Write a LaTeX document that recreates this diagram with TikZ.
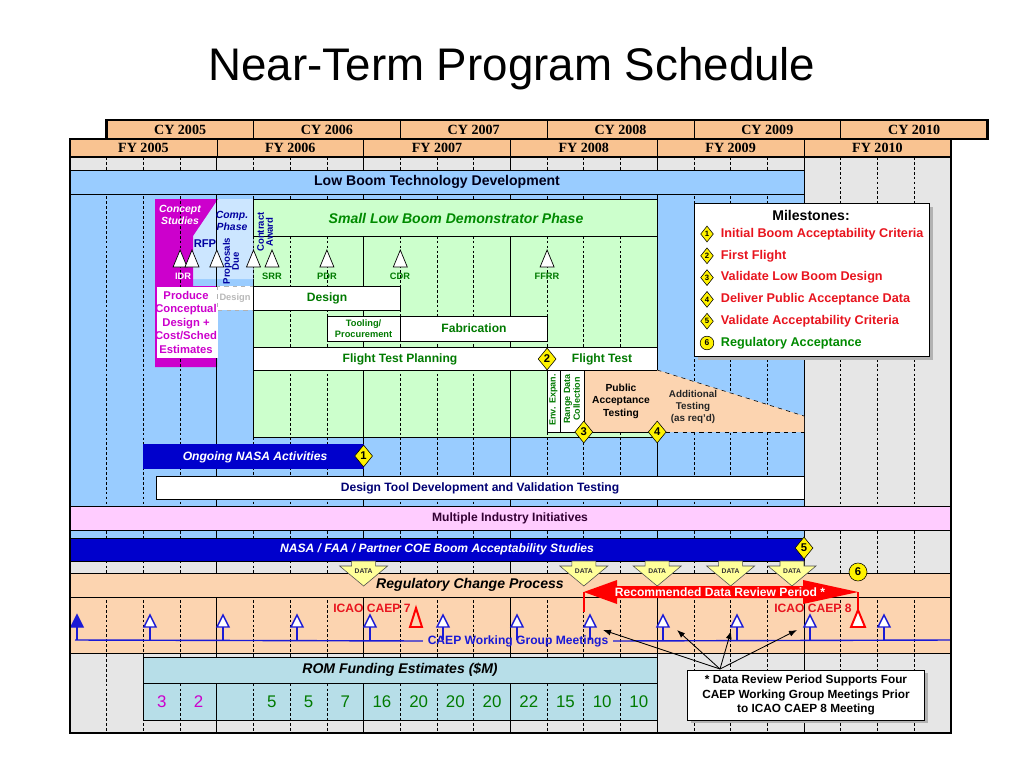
\documentclass[tikz,border=0pt]{standalone}
\usepackage{fontspec}
\setmainfont{Liberation Sans}
\newfontfamily\hdrfont{Liberation Serif}
\usepackage{xcolor}
\usetikzlibrary{arrows.meta,calc,shapes.geometric}

\definecolor{hdrorange}{HTML}{F9C391}
\definecolor{roworange}{HTML}{FCD4B0}
\definecolor{graybg}{HTML}{E6E6E6}
\definecolor{bluebg}{HTML}{99CCFF}
\definecolor{greenbg}{HTML}{CCFFCC}
\definecolor{compblue}{HTML}{CCE6FF}
\definecolor{conceptmag}{HTML}{CC00CC}
\definecolor{navybar}{HTML}{0000CC}
\definecolor{pinkrow}{HTML}{FFCCFF}
\definecolor{romteal}{HTML}{B7DEE8}
\definecolor{msred}{HTML}{E8141E}
\definecolor{msgreen}{HTML}{008A00}
\definecolor{lblgreen}{HTML}{007A00}
\definecolor{lblblue}{HTML}{0000A0}
\definecolor{wgblue}{HTML}{1A1AD6}
\definecolor{datayel}{HTML}{FFFF99}
\definecolor{industry}{HTML}{330033}

\newcommand{\qx}[1]{70+36.7*(#1)}

\begin{document}
\begin{tikzpicture}[x=0.025cm,y=-0.025cm,>=Latex,
    hdr/.style={font=\hdrfont\bfseries\fontsize{10}{12}\selectfont},
    barlbl/.style={font=\bfseries\fontsize{8.6}{10}\selectfont},
    barit/.style={font=\bfseries\itshape\fontsize{8.6}{10}\selectfont},
    bigbar/.style={font=\bfseries\fontsize{10}{12}\selectfont},
    bigit/.style={font=\bfseries\itshape\fontsize{10}{12}\selectfont},
    smlbl/.style={font=\bfseries\fontsize{6.6}{7.6}\selectfont,text=lblgreen},
    gridq/.style={line width=0.5pt,dash pattern=on 2pt off 1.5pt},
    gridfy/.style={line width=0.6pt},
    revtri/.style={draw=black,fill=white,line width=0.5pt},
    wgtri/.style={draw=wgblue,line width=1pt,fill=white},
    ms/.style={diamond,draw=black,fill=yellow,minimum width=0.45cm,minimum height=0.55cm,
      inner sep=0pt,font=\bfseries\fontsize{8}{9}\selectfont},
    mslg/.style={diamond,draw=black,fill=yellow,minimum width=0.32cm,minimum height=0.4cm,
      inner sep=0pt,font=\bfseries\fontsize{5.5}{6}\selectfont},
    mstxt/.style={anchor=west,font=\bfseries\fontsize{9}{11}\selectfont,text=msred}]
  \useasboundingbox (0,0) rectangle (1024,768);

  \node[font=\fontsize{32.5}{38}\selectfont] (title) at (512,69) {Near-Term Program Schedule};

  \foreach \yr [count=\i from 0] in {2005,...,2010} {
    \filldraw[fill=hdrorange,draw=black] ({\qx{4*\i+1}},120) rectangle ({\qx{4*\i+5}},139);
    \node[hdr] at ({\qx{4*\i+3}},129.5) {CY \yr};
    \filldraw[fill=hdrorange,draw=black] ({\qx{4*\i}},139) rectangle ({\qx{4*\i+4}},157);
    \node[hdr] at ({\qx{4*\i+2}},148) {FY \yr};
  }

  \fill[graybg] (70,157) rectangle ({\qx{24}},733);
  \fill[bluebg] (70,170) rectangle ({\qx{20}},561);
  \filldraw[fill=roworange,draw=black] (70,597) rectangle ({\qx{24}},653);
  \filldraw[fill=greenbg,draw=black] ({\qx{5}},199) rectangle ({\qx{16}},437);
  \fill[romteal] ({\qx{2}},683) rectangle ({\qx{16}},720);
  \fill[compblue] (218,199) -- ({\qx{5}},199) -- ({\qx{5}},279) -- (193,279) -- (193,236) -- cycle;
  \fill[conceptmag] (155,199) -- (218,199) -- (193,236) -- (193,286) -- (217,286)
    -- (217,367) -- (155,367) -- cycle;

  \foreach \k in {1,...,23}
    \draw[gridq] ({\qx{\k}},157) -- ({\qx{\k}},733);
  \foreach \k in {4,8,...,20}
    \draw[gridfy] ({\qx{\k}},157) -- ({\qx{\k}},733);

  \filldraw[fill=bluebg,draw=black] (70,170) rectangle ({\qx{20}},194);
  \node[bigbar,text=black!90!blue] at (437,182) {Low Boom Technology Development};

  \filldraw[fill=greenbg,draw=black] ({\qx{5}},199) rectangle ({\qx{16}},236);
  \node[bigit,text=msgreen] at (456,218) {Small Low Boom Demonstrator Phase};
  \node[font=\bfseries\itshape\fontsize{7.4}{8.4}\selectfont,text=white,align=center] at (180,215)
    {Concept\\Studies};
  \node[font=\bfseries\itshape\fontsize{7.4}{8.4}\selectfont,text=lblblue,align=center] at (232,221)
    {Comp.\\Phase};

  \foreach \tx in {180.1,192,216.8,253.5,272,326.9,400.3,547.1}
    \draw[revtri] (\tx,250) -- (\tx+7,267) -- (\tx-7,267) -- cycle;
  \node[font=\bfseries\fontsize{6.6}{7.6}\selectfont,text=white] at (183,276) {IDR};
  \node[font=\bfseries\fontsize{8}{9}\selectfont,text=lblblue] at (205,244) {RFP};
  \node[font=\bfseries\fontsize{6.8}{6.4}\selectfont,text=lblblue,rotate=90,align=center] at (231,261)
    {Proposals\\Due};
  \node[font=\bfseries\fontsize{6.8}{6.4}\selectfont,text=lblblue,rotate=90,align=center] at (265,232)
    {Contract\\Award};
  \node[smlbl] at (272,276) {SRR};
  \node[smlbl] at (327,276) {PDR};
  \node[smlbl] at (400,276) {CDR};
  \node[smlbl] at (547,276) {FFRR};

  \filldraw[fill=white,draw=white] (157,287) rectangle (217,357);
  \node[font=\bfseries\fontsize{8}{9.6}\selectfont,text=conceptmag,align=center] at (186,322)
    {Produce\\Conceptual\\Design +\\Cost/Sched\\Estimates};
  \filldraw[fill=white,draw=gray!60,dashed] (216.8,286) rectangle (253.5,310);
  \node[font=\bfseries\fontsize{6.6}{7.6}\selectfont,text=gray!55] at (235,298) {Design};
  \filldraw[fill=white,draw=black] (253.5,286) rectangle (400.3,310);
  \node[barlbl,text=lblgreen] at (327,298) {Design};
  \filldraw[fill=white,draw=black] (326.9,316) rectangle (400.3,341);
  \node[font=\bfseries\fontsize{6.6}{7.8}\selectfont,text=lblgreen,align=center] at (363.6,328.5)
    {Tooling/\\Procurement};
  \filldraw[fill=white,draw=black] (400.3,316) rectangle (547.1,341);
  \node[barlbl,text=lblgreen] at (474,328.5) {Fabrication};
  \filldraw[fill=white,draw=black] (253.5,347) rectangle (657.2,370);
  \node[barlbl,text=lblgreen] at (400,359) {Flight Test Planning};
  \node[barlbl,text=lblgreen] at (602,359) {Flight Test};

  \filldraw[fill=white,draw=black] (547.1,370) rectangle (560,432);
  \node[font=\bfseries\fontsize{6.4}{7}\selectfont,text=lblgreen,rotate=90] at (553.5,400) {Env. Expan.};
  \filldraw[fill=white,draw=black] (560,370) rectangle (583.8,432);
  \node[font=\bfseries\fontsize{6.4}{7}\selectfont,text=lblgreen,rotate=90,align=center] at (572,399)
    {Range Data\\Collection};
  \filldraw[fill=roworange,draw=black] (583.8,370) rectangle (657.2,432);
  \node[font=\bfseries\fontsize{7.3}{8.8}\selectfont,align=center] at (621,401)
    {Public\\Acceptance\\Testing};
  \fill[roworange] (657.2,370) -- (804,416) -- (804,432) -- (657.2,432) -- cycle;
  \draw[dashed] (657.2,370) -- (804,416);
  \draw[dashed] (657.2,432) -- (804,432);
  \node[font=\bfseries\fontsize{7}{8.6}\selectfont,align=center,text=black!85] at (693,407)
    {Additional\\Testing\\(as req'd)};
  \node[ms] (m2) at (547.1,359) {2};
  \node[ms] (m3) at (583.8,432) {3};
  \node[ms] (m4) at (657.2,432) {4};

  \filldraw[fill=navybar,draw=navybar] ({\qx{2}},444) rectangle ({\qx{8}},468);
  \node[barit,text=white] at (255,457) {Ongoing NASA Activities};
  \node[ms] (m1) at ({\qx{8}},456) {1};

  \filldraw[fill=white,draw=black] (156,476) rectangle ({\qx{20}},499);
  \node[barlbl,text=blue!45!black] at (480,488) {Design Tool Development and Validation Testing};

  \filldraw[fill=pinkrow,draw=black] (70,506) rectangle ({\qx{24}},530);
  \node[barlbl,text=industry] at (510,518) {Multiple Industry Initiatives};

  \filldraw[fill=navybar,draw=black] (70,538) rectangle ({\qx{20}},561);
  \node[barit,text=white] at (437,549) {NASA / FAA / Partner COE Boom Acceptability Studies};
  \node[ms] (m5) at ({\qx{20}},548) {5};

  \filldraw[fill=roworange,draw=black] (70,573) rectangle ({\qx{24}},597);
  \node[bigit] at (470,585) {Regulatory Change Process};

  \foreach \dx in {363.6,583.8,657.2,730.6,792} {
    \filldraw[fill=datayel,draw=gray!60!black,line width=0.4pt] (\dx-12,561) -- (\dx+12,561)
      -- (\dx+12,566) -- (\dx+24,566) -- (\dx,586) -- (\dx-24,566) -- (\dx-12,566) -- cycle;
    \node[font=\bfseries\fontsize{4.8}{5}\selectfont,text=black!80] at (\dx,571) {DATA};
  }
  \node[circle,draw=black,fill=yellow,minimum size=0.45cm,inner sep=0pt,
    font=\bfseries\fontsize{8}{9}\selectfont] (m6) at (858,572) {6};

  \draw[red,line width=1pt] (583.8,592) -- (583.8,612);
  \draw[red,line width=1pt] (858,592) -- (858,610);
  \fill[red] (583.8,592) -- (617,580) -- (617,586) -- (803,586) -- (803,580) -- (858,592)
    -- (803,604) -- (803,598) -- (617,598) -- (617,604) -- cycle;
  \node[barlbl,text=white] at (720,592) {Recommended Data Review Period *};

  \node[barlbl,text=msred] at (372,608) {ICAO CAEP 7};
  \draw[red,line width=1.4pt] (416,608) -- (422,627) -- (410,627) -- cycle;
  \node[barlbl,text=msred] at (813,608) {ICAO CAEP 8};
  \draw[red,line width=1.4pt,fill=white] (858,610) -- (865,627) -- (851,627) -- cycle;

  \node[barlbl,text=wgblue] (wg) at (518,641) {CAEP Working Group Meetings};
  \draw[wgblue,line width=1pt] (75,640) -- (wg.west);
  \draw[wgblue,line width=1pt] (wg.east) -- ({\qx{24}},640);
  \filldraw[fill=wgblue,draw=wgblue,line width=1pt] (77,615) -- (83,627) -- (71,627) -- cycle;
  \draw[wgblue,line width=1pt] (77,627) -- (77,640);
  \foreach \wx in {150,223,297,370,443,517,590,663,737,810,884} {
    \draw[wgtri] (\wx,615) -- (\wx+6,627) -- (\wx-6,627) -- cycle;
    \draw[wgblue,line width=1pt] (\wx,627) -- (\wx,640);
  }

  \filldraw[fill=romteal,draw=black] ({\qx{2}},657) rectangle ({\qx{16}},683);
  \node[bigit] at (400,670) {ROM Funding Estimates (\$M)};
  \draw ({\qx{2}},683) rectangle ({\qx{16}},720);
  \foreach \v/\k/\c in {3/2/conceptmag,2/3/conceptmag,5/5/lblgreen,5/6/lblgreen,7/7/lblgreen,
      16/8/lblgreen,20/9/lblgreen,20/10/lblgreen,20/11/lblgreen,22/12/lblgreen,15/13/lblgreen,
      10/14/lblgreen,10/15/lblgreen}
    \node[font=\fontsize{12}{14}\selectfont,text=\c] at ({\qx{\k+0.5}},702) {\v};

  \fill[gray!60] (698,207) rectangle (933,360);
  \filldraw[fill=white,draw=black] (694,203) rectangle (929,356);
  \node[font=\bfseries\fontsize{10}{12}\selectfont] at (811,215) {Milestones:};
  \foreach \t [count=\i] in {Initial Boom Acceptability Criteria,First Flight,Validate Low Boom Design,
      Deliver Public Acceptance Data,Validate Acceptability Criteria} {
    \node[mslg] at (707,{234+(\i-1)*21.8}) {\i};
    \node[mstxt] at (716,{234+(\i-1)*21.8}) {\t};
  }
  \node[circle,draw=black,fill=yellow,minimum size=0.34cm,inner sep=0pt,
    font=\bfseries\fontsize{6}{7}\selectfont] at (707,343) {6};
  \node[mstxt,text=msgreen] at (716,343) {Regulatory Acceptance};

  \fill[gray!60] (691,673) rectangle (928,723);
  \node[draw=black,fill=white,minimum width=5.92cm,minimum height=1.25cm,align=center,
    font=\bfseries\fontsize{8.4}{10.4}\selectfont] (note) at (806,695)
    {* Data Review Period Supports Four\\CAEP Working Group Meetings Prior\\to ICAO CAEP 8 Meeting};
  \coordinate (src) at (720,669);
  \coordinate (r1) at (603,630);
  \coordinate (r2) at (677,630);
  \coordinate (r3) at (731,631);
  \coordinate (r4) at (797,630);
  \foreach \r in {r1,r2,r3,r4}
    \draw[->,line width=0.6pt] (src) -- (\r);

  \draw[line width=1.8pt] ({\qx{1}},120) rectangle ({\qx{25}},139);
  \draw[line width=1.8pt] (70,139) rectangle ({\qx{24}},733);
  \draw[line width=1pt] (70,157) -- ({\qx{24}},157);
\end{tikzpicture}
\end{document}
